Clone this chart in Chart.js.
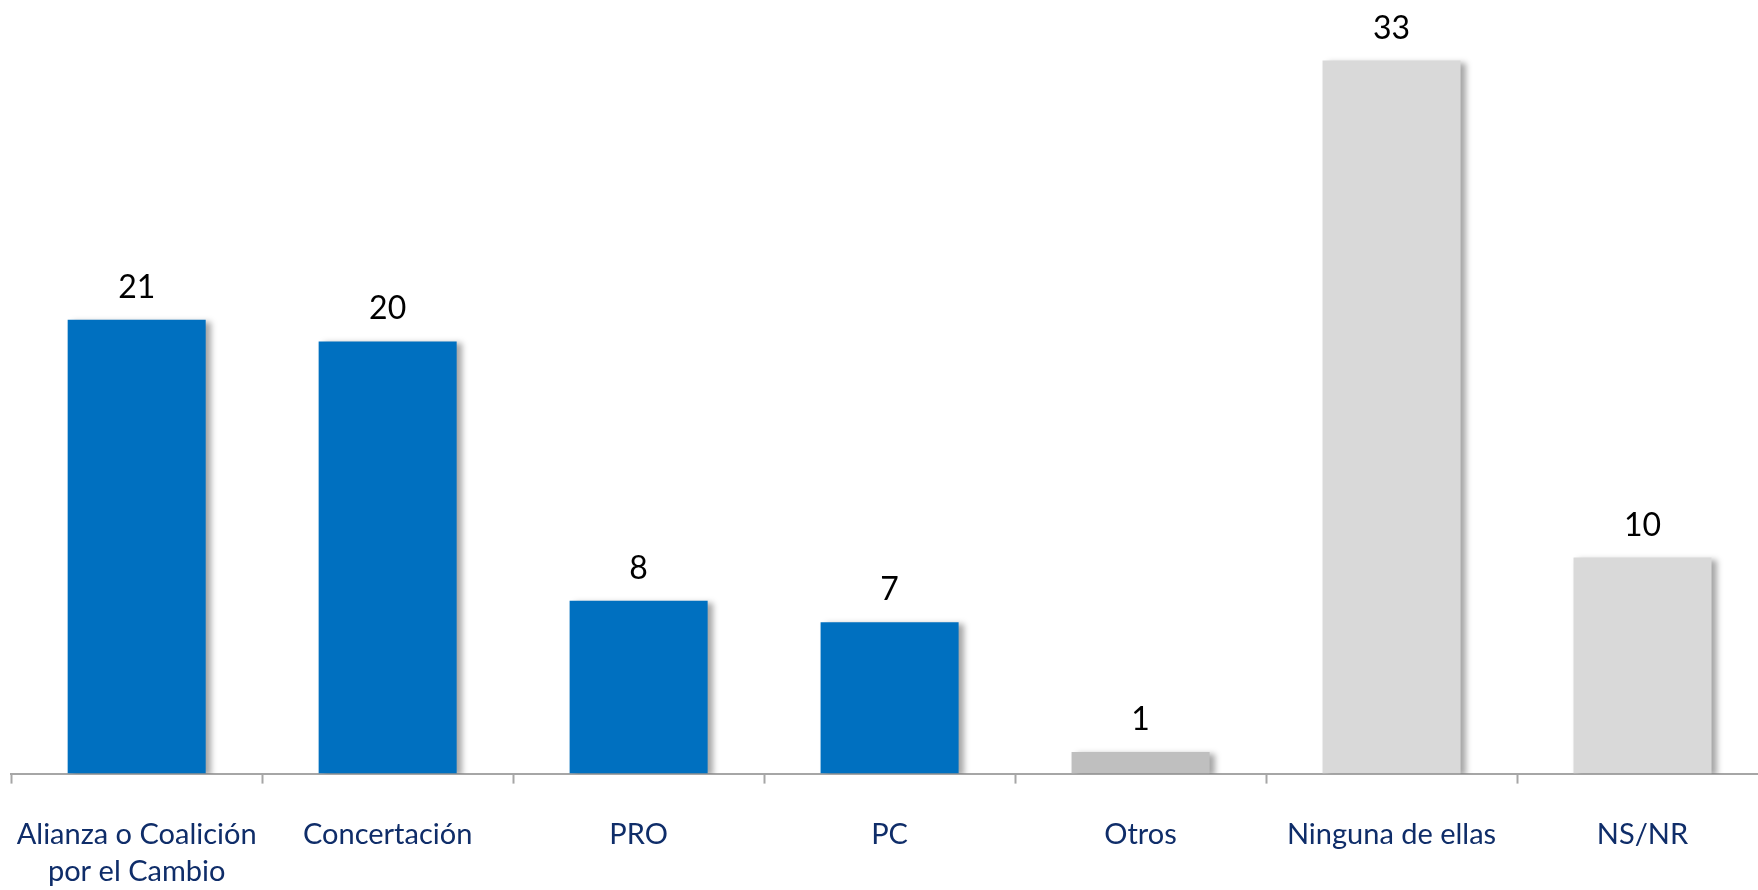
<!DOCTYPE html>
<html>
<head>
<meta charset="utf-8">
<script src="https://cdn.jsdelivr.net/npm/chart.js@4.4.0/dist/chart.umd.min.js"></script>
<style>
  html, body { margin: 0; padding: 0; background: #fff; overflow: hidden; }
  #wrap { width: 1770px; height: 890px; }
</style>
</head>
<body>
<div id="wrap"><canvas id="chart"></canvas></div>
<script>
const categories = [
    ['Alianza o Coalición', 'por el Cambio'],
    'Concertación',
    'PRO',
    'PC',
    'Otros',
    'Ninguna de ellas',
    'NS/NR'
];
const values = [21, 20, 8, 7, 1, 33, 10];
const barColors = ['#0070C0', '#0070C0', '#0070C0', '#0070C0', '#BFBFBF', '#D9D9D9', '#D9D9D9'];

const FONT = 'Lato, "Open Sans", sans-serif';

// soft shadow on the right of each bar
const barShadow = {
    id: 'barShadow',
    beforeDatasetsDraw(chart) {
        const ctx = chart.ctx;
        ctx.save();
        ctx.shadowColor = 'rgba(0,0,0,0.35)';
        ctx.shadowBlur = 6;
        ctx.shadowOffsetX = 5;
        ctx.shadowOffsetY = 2;
    },
    afterDatasetsDraw(chart) {
        chart.ctx.restore();
    }
};

// value above each bar
const valueLabels = {
    id: 'valueLabels',
    afterDatasetsDraw(chart) {
        const ctx = chart.ctx;
        const meta = chart.getDatasetMeta(0);
        ctx.save();
        ctx.font = '32px ' + FONT;
        ctx.fillStyle = '#000';
        ctx.textAlign = 'center';
        ctx.textBaseline = 'alphabetic';
        meta.data.forEach((bar, i) => {
            ctx.fillText(String(values[i]), bar.x, bar.y - 22);
        });
        ctx.restore();
    }
};

new Chart(document.getElementById('chart'), {
    type: 'bar',
    data: {
        labels: categories,
        datasets: [{
            data: values,
            backgroundColor: barColors,
            borderWidth: 0,
            barPercentage: 0.55,
            categoryPercentage: 1
        }]
    },
    options: {
        responsive: true,
        maintainAspectRatio: false,
        animation: false,
        layout: { padding: { left: 11.2, right: 2, top: 0, bottom: 0 } },
        plugins: {
            legend: { display: false },
            tooltip: { enabled: false }
        },
        scales: {
            x: {
                grid: {
                    display: true,
                    offset: true,
                    drawOnChartArea: false,
                    drawTicks: true,
                    tickLength: 10,
                    tickWidth: 2,
                    tickColor: '#A6A6A6'
                },
                border: { display: true, color: '#A6A6A6', width: 2 },
                ticks: {
                    color: '#0F2D69',
                    padding: 32,
                    maxRotation: 0,
                    autoSkip: false,
                    font: { family: FONT, size: 29, lineHeight: 1.28 }
                },
                afterFit(scale) {
                    scale.height = 116.4;
                    scale.paddingLeft = 0;
                    scale.paddingRight = 0;
                }
            },
            y: {
                display: false,
                min: 0,
                max: 35.8
            }
        }
    },
    plugins: [barShadow, valueLabels]
});
</script>
</body>
</html>
